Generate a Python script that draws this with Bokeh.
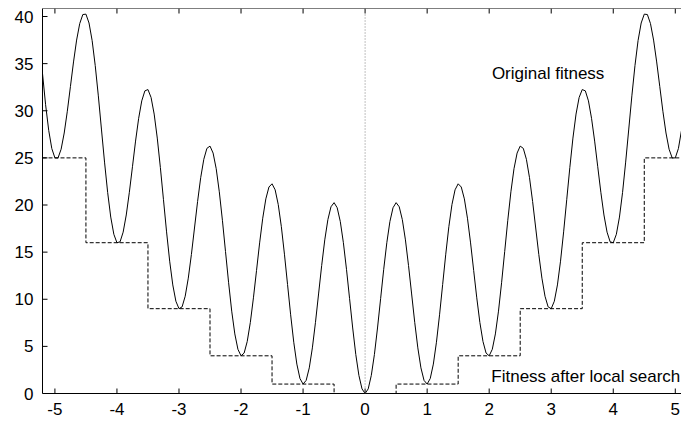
from bokeh.plotting import figure
from bokeh.models import Range1d, LinearAxis, Span, FixedTicker, Label
from bokeh.embed import file_html
from bokeh.resources import INLINE

# Sampling grid (x) and fitness values
x_vals = [round(-5.2 + 0.05 * i, 2) for i in range(207)]
fitness = [
    # x = -5.20 ... -0.05
    33.95, 30.64, 27.92, 25.99, 25.00, 24.99, 25.92, 27.64, 29.95, 32.56,
    35.18, 37.50, 39.25, 40.21, 40.25, 39.31, 37.45, 34.80, 31.58, 28.06,
    24.55, 21.34, 18.72, 16.89, 16.00, 16.09, 17.12, 18.94, 21.35, 24.06,
    26.78, 29.20, 31.05, 32.11, 32.25, 31.41, 29.65, 27.10, 23.98, 20.56,
    17.15, 14.04, 11.52, 9.79, 9.00, 9.19, 10.32, 12.24, 14.75, 17.56,
    20.38, 22.90, 24.85, 26.01, 26.25, 25.51, 23.85, 21.40, 18.38, 15.06,
    11.75, 8.74, 6.32, 4.69, 4.00, 4.29, 5.52, 7.54, 10.15, 13.06,
    15.98, 18.60, 20.65, 21.91, 22.25, 21.61, 20.05, 17.70, 14.78, 11.56,
    8.35, 5.44, 3.12, 1.59, 1.00, 1.39, 2.72, 4.84, 7.55, 10.56,
    13.58, 16.30, 18.45, 19.81, 20.25, 19.71, 18.25, 16.00, 13.18, 10.06,
    6.95, 4.14, 1.92, 0.49,
    # x = 0.00 ... 5.10
    0.00, 0.49, 1.92, 4.14, 6.95, 10.06, 13.18, 16.00, 18.25, 19.71,
    20.25, 19.81, 18.45, 16.30, 13.58, 10.56, 7.55, 4.84, 2.72, 1.39,
    1.00, 1.59, 3.12, 5.44, 8.35, 11.56, 14.78, 17.70, 20.05, 21.61,
    22.25, 21.91, 20.65, 18.60, 15.98, 13.06, 10.15, 7.54, 5.52, 4.29,
    4.00, 4.69, 6.32, 8.74, 11.75, 15.06, 18.38, 21.40, 23.85, 25.51,
    26.25, 26.01, 24.85, 22.90, 20.38, 17.56, 14.75, 12.24, 10.32, 9.19,
    9.00, 9.79, 11.52, 14.04, 17.15, 20.56, 23.98, 27.10, 29.65, 31.41,
    32.25, 32.11, 31.05, 29.20, 26.78, 24.06, 21.35, 18.94, 17.12, 16.09,
    16.00, 16.89, 18.72, 21.34, 24.55, 28.06, 31.58, 34.80, 37.45, 39.31,
    40.25, 40.21, 39.25, 37.50, 35.18, 32.56, 29.95, 27.64, 25.92, 24.99,
    25.00, 25.99, 27.92,
]

# Fitness after local search (step function)
step_x = [-5.2, -4.5, -3.5, -2.5, -1.5, -0.5, 0.5, 1.5, 2.5, 3.5, 4.5, 5.1]
step_y = [25, 16, 9, 4, 1, 0, 1, 4, 9, 16, 25, 25]

x_ticks = [-5, -4, -3, -2, -1, 0, 1, 2, 3, 4, 5]
x_tick_labels = ["-5", "-4", "-3", "-2", "-1", "0", "1", "2", "3", "4", "5"]
y_ticks = [0, 5, 10, 15, 20, 25, 30, 35, 40]

FONT = "Liberation Sans"
FS = "17px"
X0, X1, Y0, Y1 = -5.2, 5.1, 0, 40.85
W, H = 681, 423
ML, MT, MB = 42, 8, 30
TICK = 5  # px
px_x = (X1 - X0) / (W - ML)
px_y = (Y1 - Y0) / (H - MT - MB)

p = figure(width=W, height=H, output_backend="svg", toolbar_location=None,
           x_range=Range1d(X0, X1), y_range=Range1d(Y0, Y1),
           x_axis_location=None, y_axis_location=None,
           min_border_left=ML, min_border_top=MT, min_border_right=0,
           min_border_bottom=MB)
p.outline_line_color = None
p.xgrid.visible = False
p.ygrid.visible = False
p.background_fill_color = "white"

def style(ax):
    ax.major_tick_in = 0
    ax.major_tick_out = 0
    ax.minor_tick_line_color = None
    ax.axis_line_color = "black"
    ax.axis_line_width = 1
    ax.major_label_text_font = FONT
    ax.major_label_text_font_size = FS
    ax.major_label_text_color = "black"
    ax.major_label_standoff = 9

bottom = LinearAxis(ticker=FixedTicker(ticks=x_ticks),
                    major_label_overrides=dict(zip(x_ticks, x_tick_labels)))
style(bottom)
p.add_layout(bottom, "below")

left = LinearAxis(ticker=FixedTicker(ticks=y_ticks))
style(left)
p.add_layout(left, "left")

# top border (the right border is cropped off in the reference)
p.add_layout(Span(location=Y1, dimension="width", line_color="black", line_width=1))

# inward tick marks: bottom, mirrored top, left
nx, ny = len(x_ticks), len(y_ticks)
p.segment(x0=x_ticks, y0=[Y0] * nx, x1=x_ticks, y1=[Y0 + TICK * px_y] * nx,
          line_color="black", line_width=1)
p.segment(x0=x_ticks, y0=[Y1] * nx, x1=x_ticks, y1=[Y1 - TICK * px_y] * nx,
          line_color="black", line_width=1)
p.segment(x0=[X0] * ny, y0=y_ticks, x1=[X0 + TICK * px_x] * ny, y1=y_ticks,
          line_color="black", line_width=1)

p.add_layout(Span(location=0, dimension="height", line_color="#808080",
                  line_dash="1 2", line_width=1))

p.step(step_x, step_y, mode="after", line_color="black", line_width=1,
       line_dash="4 2")
p.line(x_vals, fitness, line_color="black", line_width=1)

p.add_layout(Label(x=2.95, y=34, text="Original fitness", text_align="center",
                   text_baseline="middle", text_font=FONT,
                   text_font_size=FS, text_color="black"))
p.add_layout(Label(x=5.08, y=1.8, text="Fitness after local search",
                   text_align="right", text_baseline="middle", text_font=FONT,
                   text_font_size=FS, text_color="black"))

open("out.html", "w").write(file_html(p, INLINE))
